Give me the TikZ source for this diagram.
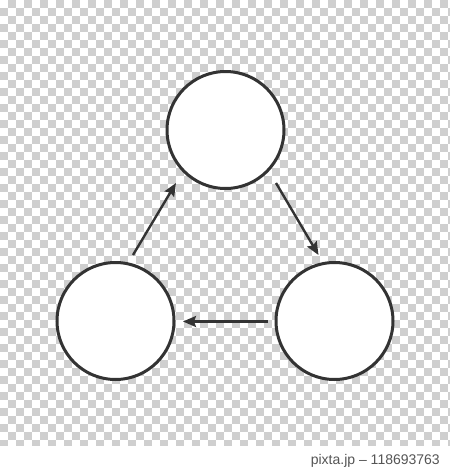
\documentclass[tikz,border=0pt]{standalone}
\usepackage{fontspec}
\setmainfont{Liberation Sans}
\usetikzlibrary{arrows.meta}
\definecolor{ink}{HTML}{333333}
\definecolor{chk}{HTML}{CFCFCF}
\definecolor{mark}{HTML}{555555}
\tikzset{
  ring/.style={circle, draw=ink, fill=white, line width=3pt, minimum size=117pt, inner sep=0pt},
  flow/.style={draw=ink, line width=2.4pt, -{Stealth[length=13pt,width=11pt,inset=2pt]}},
  tag/.style={font=\fontsize{14pt}{16pt}\selectfont, text=mark, inner sep=0pt, anchor=base east}
}
\begin{document}
\begin{tikzpicture}[x=1pt,y=-1pt]
\useasboundingbox (0,0) rectangle (450,469);
\fill[white] (0,0) rectangle (450,469);
\begin{scope}
\clip (0,0) rectangle (450,445);
\foreach \r in {0,...,55}{
  \pgfmathsetmacro{\ph}{mod(\r,2)==0 ? 8 : 0}
  \draw[chk, line width=8pt, dash pattern=on 8pt off 8pt, dash phase=\ph pt]
    (0,\r*8+4) -- (456,\r*8+4);
}
\end{scope}
\node[ring] (top) at (225.5,130) {};
\node[ring] (left) at (115.5,321) {};
\node[ring] (right) at (334.5,321) {};
\coordinate (a1) at (133,255);
\coordinate (b1) at (176,183);
\coordinate (a2) at (276,183);
\coordinate (b2) at (318.5,255);
\coordinate (a3) at (268,321.5);
\coordinate (b3) at (183,321.5);
\draw[flow] (a1) -- (b1);
\draw[flow] (a2) -- (b2);
\draw[flow] (a3) -- (b3);
\node[tag] (wm) at (440,464) {pixta.jp – 118693763};
\end{tikzpicture}
\end{document}
